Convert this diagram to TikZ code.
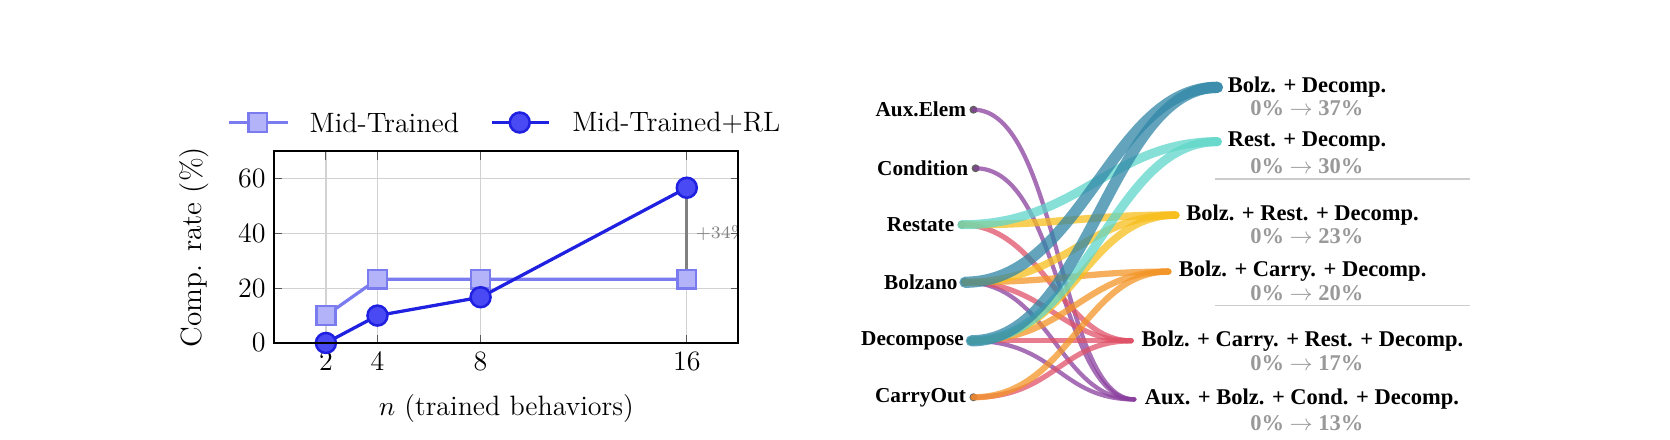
\documentclass[tikz,border=0pt]{standalone}
\usepackage{fontspec}
\newfontfamily\labfont{Liberation Serif}
\usetikzlibrary{positioning}
\definecolor{cTeal}{HTML}{2F86A6}
\definecolor{cTurq}{HTML}{5FD6C9}
\definecolor{cYell}{HTML}{F7BE1B}
\definecolor{cOran}{HTML}{F39426}
\definecolor{cRed}{HTML}{DF5268}
\definecolor{cPurp}{HTML}{8A3F9E}
\definecolor{midA}{HTML}{7B7BF0}
\definecolor{midF}{HTML}{B3B3FA}
\definecolor{rlA}{HTML}{2020E0}
\definecolor{rlF}{HTML}{4A4AF5}
\tikzset{%
	mid line/.style={midA, line width=1.3pt},
	rl line/.style={rlA, line width=1.3pt},
	mid mark/.style={rectangle, draw=midA, fill=midF, line width=1pt, minimum size=7.5pt, inner sep=0pt},
	rl mark/.style={circle, draw=rlA, fill=rlF, line width=1pt, minimum size=8pt, inner sep=0pt},
	grid line/.style={gray!35, line width=0.5pt},
	src dot/.style={circle, fill=gray!75!black, minimum size=3.2pt, inner sep=0pt},
	src label/.style={font=\labfont\bfseries\fontsize{8.5}{9}\selectfont, anchor=east, inner sep=1pt},
	dst label/.style={font=\labfont\bfseries\fontsize{9}{10}\selectfont, anchor=west, inner sep=1pt},
	gain label/.style={font=\labfont\bfseries\fontsize{9}{10}\selectfont, text=gray!80},
	flow/.style={line width=#1, opacity=0.75, line cap=round},
}
\begin{document}
\begin{tikzpicture}[x=0.426pt, y=-0.426pt]
	\useasboundingbox (0,0) rectangle (1568,413);

	% Legend
	\draw[mid line] (215,115) -- (270,115);
	\node[mid mark] (legMid) at (242,115) {};
	\node[right=13pt of legMid, font=\fontsize{11.2}{12}\selectfont] {Mid-Trained};
	\draw[rl line] (462,115) -- (515,115);
	\node[rl mark] (legRL) at (488,115) {};
	\node[right=13pt of legRL, font=\fontsize{11.2}{12}\selectfont] {Mid-Trained+RL};

	% Plot (data coordinates inside the scope)
	\begin{scope}[shift={(257.6,322)}, x=10.31pt, y=1.095pt]
		\foreach \n in {2,4,8,16} {
			\draw[grid line] (\n,0) -- (\n,70);
			\draw[gray!70!black, line width=0.4pt] (\n,0) -- (\n,3) (\n,70) -- (\n,67);
			\node[below, font=\fontsize{11.2}{12}\selectfont] at (\n,0) {\n};
		}
		\foreach \v in {0,20,40,60} {
			\draw[grid line] (0,\v) -- (18,\v);
			\draw[gray!70!black, line width=0.4pt] (0,\v) -- (0.3,\v) (18,\v) -- (17.7,\v);
			\node[left, font=\fontsize{11.2}{12}\selectfont] at (0,\v) {\v};
		}
		\draw[gray, line width=1.3pt] (16,23.3) -- (16,56.7);
		\begin{scope}
			\clip (0,0) rectangle (18,70);
			\node[right, font=\fontsize{7}{8}\selectfont, text=gray] at (16,40) {+34\%};
		\end{scope}
		% Mid-Trained
		\draw[mid line] (2,10) -- (4,23.3) -- (8,23.3) -- (16,23.3);
		\foreach \n/\v in {2/10, 4/23.3, 8/23.3, 16/23.3}
			\node[mid mark] at (\n,\v) {};
		% Mid-Trained+RL
		\draw[rl line] (2,0) -- (4,10) -- (8,16.7) -- (16,56.7);
		\foreach \n/\v in {2/0, 4/10, 8/16.7, 16/56.7}
			\node[rl mark] at (\n,\v) {};
		\draw[line width=0.85pt] (0,0) rectangle (18,70);
		\node[font=\fontsize{11.2}{12}\selectfont] at (9,-24) {$n$ (trained behaviors)};
		\node[rotate=90, font=\fontsize{11.7}{12}\selectfont] at (-3.1,35) {Comp. rate (\%)};
	\end{scope}

	% Sankey: sources
	\node[src dot] (aux)  at (914,103) {};
	\node[src dot] (cond) at (916,158) {};
	\node[src dot] (rest) at (903,211) {};
	\node[src dot] (bolz) at (906,265) {};
	\node[src dot] (deco) at (912,320) {};
	\node[src dot] (carr) at (914,373) {};
	\foreach \s/\t in {aux/Aux.Elem, cond/Condition, rest/Restate, bolz/Bolzano, deco/Decompose, carr/CarryOut}
		\node[src label] at (\s.west) {\t};

	% Sankey: targets
	\coordinate (tBD)   at (1143,82);
	\coordinate (tRD)   at (1143,133);
	\coordinate (tBRD)  at (1104,202);
	\coordinate (tBCD)  at (1097,255);
	\coordinate (tBCRD) at (1062,320);
	\coordinate (tABCD) at (1065,375);

	% flows
	\foreach \s in {aux, bolz, cond, deco}
		\draw[flow=1.7pt, cPurp] (\s.center) .. controls +(80,0) and +(-70,0) .. (tABCD);
	\foreach \s in {bolz, carr, rest, deco}
		\draw[flow=2.1pt, cRed] (\s.center) .. controls +(75,0) and +(-65,0) .. (tBCRD);
	\foreach \s in {bolz, carr, deco}
		\draw[flow=2.5pt, cOran] (\s.center) .. controls +(90,0) and +(-80,0) .. (tBCD);
	\foreach \s in {bolz, rest, deco}
		\draw[flow=3pt, cYell] (\s.center) .. controls +(95,0) and +(-85,0) .. (tBRD);
	\foreach \s in {rest, deco}
		\draw[flow=3.6pt, cTurq] (\s.center) .. controls +(110,0) and +(-100,0) .. (tRD);
	\foreach \s in {bolz, deco}
		\draw[flow=4.5pt, cTeal] (\s.center) .. controls +(110,0) and +(-100,0) .. (tBD);

	% target labels
	\node[dst label] (lBD)   at ([xshift=3pt]tBD)   {Bolz. + Decomp.};
	\node[dst label] (lRD)   at ([xshift=3pt]tRD)   {Rest. + Decomp.};
	\node[dst label] (lBRD)  at ([xshift=3pt]tBRD)  {Bolz. + Rest. + Decomp.};
	\node[dst label] (lBCD)  at ([xshift=3pt]tBCD)  {Bolz. + Carry. + Decomp.};
	\node[dst label] (lBCRD) at ([xshift=3pt]tBCRD) {Bolz. + Carry. + Rest. + Decomp.};
	\node[dst label] (lABCD) at ([xshift=3pt]tABCD) {Aux. + Bolz. + Cond. + Decomp.};
	\node[gain label] at (1227,102) {0\% $\rightarrow$ 37\%};
	\node[gain label] at (1227,156) {0\% $\rightarrow$ 30\%};
	\node[gain label] at (1227,222) {0\% $\rightarrow$ 23\%};
	\node[gain label] at (1227,275) {0\% $\rightarrow$ 20\%};
	\node[gain label] at (1227,341) {0\% $\rightarrow$ 17\%};
	\node[gain label] at (1227,397) {0\% $\rightarrow$ 13\%};
	\draw[gray!40, line width=0.6pt] (1141,168) -- (1380,168);
	\draw[gray!40, line width=0.6pt] (1141,287) -- (1380,287);
\end{tikzpicture}
\end{document}
